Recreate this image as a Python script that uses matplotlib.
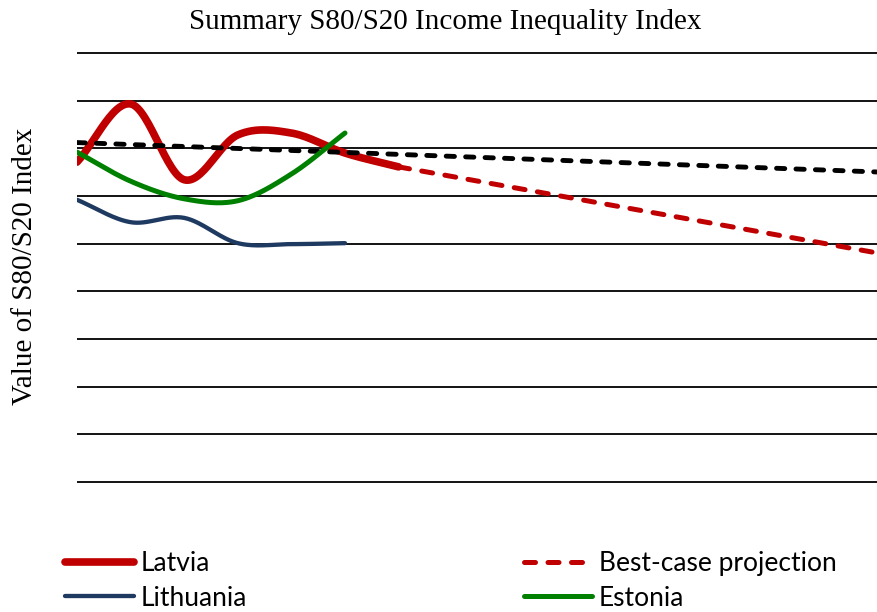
import numpy as np
import matplotlib
matplotlib.use("Agg")
import matplotlib.pyplot as plt

# year index 0..15 (gridline units)
years = list(range(16))
latvia = [6.71, 7.93, 6.34, 7.28, 7.32, 6.90, 6.61]
lithuania = [5.92, 5.45, 5.54, 5.01, 4.99, 5.01]
estonia = [6.92, 6.31, 5.94, 5.90, 6.46, 7.32]
projection_x = [6, 15]
projection = [6.61, 4.79]
trend_x = [0, 15]
trend = [7.12, 6.50]
gridlines = list(range(10))


def smooth(ys, n=30):
    # catmull-rom spline, like Excel's "smoothed line"
    ys = np.asarray(ys, dtype=float)
    p = np.concatenate([[2 * ys[0] - ys[1]], ys, [2 * ys[-1] - ys[-2]]])
    xs_out, ys_out = [], []
    for i in range(1, len(p) - 2):
        t = np.linspace(0, 1, n, endpoint=False)
        p0, p1, p2, p3 = p[i - 1], p[i], p[i + 1], p[i + 2]
        y = 0.5 * ((2 * p1) + (-p0 + p2) * t + (2 * p0 - 5 * p1 + 4 * p2 - p3) * t**2
                   + (-p0 + 3 * p1 - 3 * p2 + p3) * t**3)
        xs_out.extend(i - 1 + t)
        ys_out.extend(y)
    xs_out.append(len(ys) - 1)
    ys_out.append(ys[-1])
    return np.array(xs_out), np.array(ys_out)


fig = plt.figure(figsize=(8.78, 6.12), dpi=100)
ax = fig.add_axes([77 / 878, 0.2046, 804 / 878, 0.7167])

for g in gridlines:
    ax.axhline(g, color='black', lw=1.3, zorder=1)

red = '#C00000'
x, y = smooth(latvia)
ax.plot(x, y, color=red, lw=5.5, solid_capstyle='round', label='Latvia', zorder=4)
x, y = smooth(lithuania)
ax.plot(x, y, color='#1F3A60', lw=3.1, solid_capstyle='round', label='Lithuania', zorder=3)
ax.plot(projection_x, projection, color=red, lw=3.6, ls=(0, (2.2, 2.5)),
        dash_capstyle='round', label='Best-case projection', zorder=3)
x, y = smooth(estonia)
ax.plot(x, y, color='#008000', lw=3.6, solid_capstyle='round', label='Estonia', zorder=5)
ax.plot(trend_x, trend, color='black', lw=3.5, ls=(0, (1.7, 2.3)),
        dash_capstyle='round', label='_trend', zorder=4)

ax.set_xlim(0, 15)
ax.set_ylim(-0.1, 9.1)
ax.set_xticks([])
ax.set_yticks([])
for s in ax.spines.values():
    s.set_visible(False)

fig.text(445 / 878, 1 - 22 / 612, 'Summary S80/S20 Income Inequality Index',
         family='Liberation Serif', fontsize=21, ha='center', va='center')
fig.text(25 / 878, 1 - 266 / 612, 'Value of S80/S20 Index',
         family='Liberation Serif', fontsize=21, ha='center', va='center', rotation=90)

fig.legend(loc='upper left', bbox_to_anchor=(65 / 878, 1 - 551 / 612), ncol=2,
           frameon=False, prop={'family': 'Lato', 'size': 19},
           handlelength=2.6, handletextpad=0.25, columnspacing=10.5,
           labelspacing=0.36, borderaxespad=0.0, borderpad=0.0)

fig.savefig('out.png', dpi=100)
